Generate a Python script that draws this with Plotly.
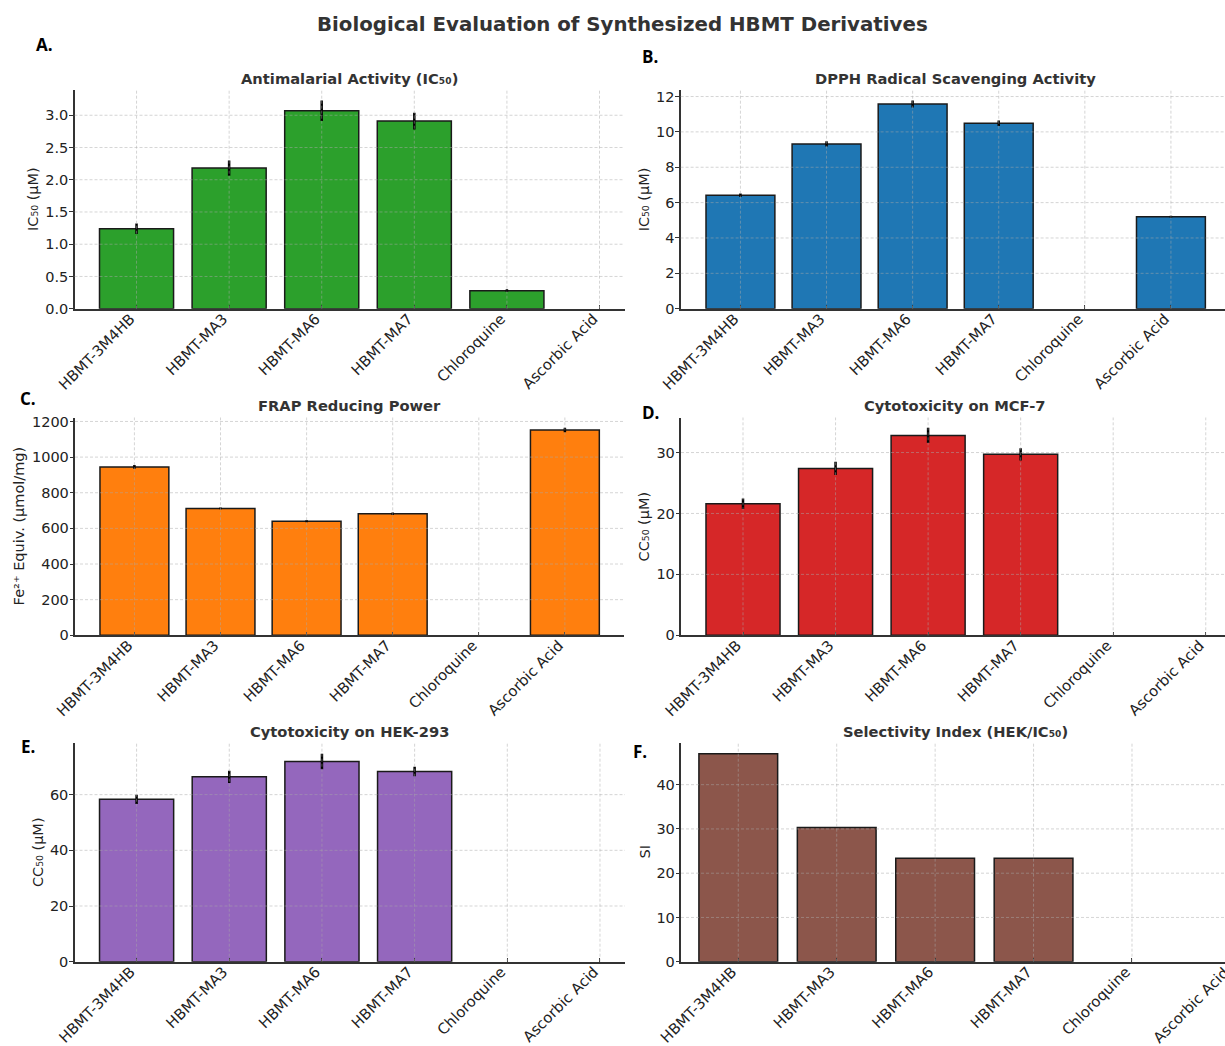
import plotly.graph_objects as go

# ---- data -------------------------------------------------------------
categories = ["HBMT-3M4HB", "HBMT-MA3", "HBMT-MA6", "HBMT-MA7", "Chloroquine", "Ascorbic Acid"]

antimalarial_ic50 = [1.24, 2.18, 3.07, 2.91, 0.28, None]
antimalarial_err = [0.08, 0.12, 0.16, 0.13, 0.02, None]

dpph_ic50 = [6.42, 9.32, 11.58, 10.49, None, 5.20]
dpph_err = [0.10, 0.15, 0.20, 0.16, None, 0.05]

frap_fe = [945, 712, 640, 682, None, 1152]
frap_err = [10, 5, 6, 7, None, 12]

mcf7_cc50 = [21.6, 27.4, 32.8, 29.7, None, None]
mcf7_err = [0.85, 1.1, 1.25, 1.0, None, None]

hek_cc50 = [58.3, 66.4, 71.9, 68.3, None, None]
hek_err = [1.7, 2.2, 2.8, 1.7, None, None]

selectivity_index = [47.0, 30.3, 23.4, 23.4, None, None]
selectivity_err = [None] * 6

# ---- figure geometry --------------------------------------------------
W, H = 1225, 1046
FONT = "DejaVu Sans"
TXT = "#222222"

panels = [
    dict(label="A.", title="Antimalarial Activity (IC₅₀)", ytitle="IC₅₀ (µM)",
         y=antimalarial_ic50, err=antimalarial_err, color="#2ca02c", dtick=0.5, fmt=".1f",
         box=(74.5, 624.5, 90, 308.7), xr=(-0.67, 5.27), tc=349.5,
         lab=(44.5, 44.5), ttl_y=78, ytl_x=33.6),
    dict(label="B.", title="DPPH Radical Scavenging Activity", ytitle="IC₅₀ (µM)",
         y=dpph_ic50, err=dpph_err, color="#1f77b4", dtick=2, fmt="d",
         box=(680.6, 1225, 90, 308.7), xr=(-0.695, 5.628), tc=955.3,
         lab=(650, 56.7), ttl_y=78, ytl_x=644),
    dict(label="C.", title="FRAP Reducing Power", ytitle="Fe²⁺ Equiv. (µmol/mg)",
         y=frap_fe, err=frap_err, color="#ff7f0e", dtick=200, fmt="d",
         box=(75, 624.3, 417.5, 635.3), xr=(-0.69, 5.69), tc=349.5,
         lab=(27.7, 399), ttl_y=405, ytl_x=19),
    dict(label="D.", title="Cytotoxicity on MCF-7", ytitle="CC₅₀ (µM)",
         y=mcf7_cc50, err=mcf7_err, color="#d62728", dtick=10, fmt="d",
         box=(681, 1225, 417.5, 635.3), xr=(-0.67, 5.208), tc=955.3,
         lab=(650, 412.5), ttl_y=405, ytl_x=644),
    dict(label="E.", title="Cytotoxicity on HEK-293", ytitle="CC₅₀ (µM)",
         y=hek_cc50, err=hek_err, color="#9467bd", dtick=20, fmt="d",
         box=(74.5, 625, 743.3, 961.7), xr=(-0.67, 5.27), tc=349.5,
         lab=(27.7, 746), ttl_y=731, ytl_x=37.5),
    dict(label="F.", title="Selectivity Index (HEK/IC₅₀)", ytitle="SI",
         y=selectivity_index, err=selectivity_err, color="#8c564b", dtick=10, fmt="d",
         box=(681, 1225, 743.3, 961.7), xr=(-0.582, 4.945), tc=955.3,
         lab=(639.7, 751), ttl_y=731, ytl_x=644),
]


def px(x):
    return x / W


def py(y):
    return 1 - y / H


fig = go.Figure()
annotations = []
shapes = []
layout_axes = {}
GRID = dict(color="rgba(170,170,170,0.55)", width=0.9, dash="3px,2px")

for i, p in enumerate(panels, start=1):
    sfx = "" if i == 1 else str(i)
    xa, ya = "x" + sfx, "y" + sfx
    left, right, top, bottom = p["box"]

    tops = [v + (e or 0) for v, e in zip(p["y"], p["err"]) if v is not None]
    ymax = max(tops) * 1.05

    has_err = any(e is not None for e in p["err"])
    fig.add_trace(go.Bar(
        x=categories, y=p["y"], width=0.8,
        marker=dict(color=p["color"], line=dict(color="#1a1a1a", width=1.5)),
        error_y=dict(type="data", array=p["err"], visible=has_err,
                     color="black", thickness=2.5, width=0),
        xaxis=xa, yaxis=ya, showlegend=False, hoverinfo="x+y",
    ))

    visible_cats = [c for k, c in enumerate(categories) if p["xr"][0] <= k <= p["xr"][1]]

    layout_axes["xaxis" + sfx] = dict(
        domain=[px(left), px(right)], anchor=ya, type="category",
        categoryorder="array", categoryarray=categories, automargin=False,
        range=list(p["xr"]), showgrid=False, zeroline=False,
        showline=True, linecolor="#333333", linewidth=1.5,
        ticks="inside", ticklen=4, tickcolor="#333333", tickwidth=1,
        tickangle=-45, tickfont=dict(family=FONT, size=14.8, color=TXT),
        ticklabelshift=-6, ticklabelstandoff=-6,
        layer="above traces", fixedrange=True,
    )
    layout_axes["yaxis" + sfx] = dict(
        domain=[py(bottom), py(top)], anchor=xa, range=[0, ymax], automargin=False,
        dtick=p["dtick"], tick0=0, tickformat=p["fmt"],
        showgrid=False, zeroline=False,
        showline=True, linecolor="#333333", linewidth=1.5,
        ticks="outside", ticklen=3.5, tickcolor="#333333", tickwidth=1,
        tickfont=dict(family=FONT, size=14.5, color=TXT),
        ticklabelstandoff=-2,
        layer="above traces", fixedrange=True,
    )

    # dashed grid drawn on top of the bars
    t = p["dtick"]
    while t < ymax:
        shapes.append(dict(type="line", xref=xa + " domain", yref=ya,
                           x0=0, x1=1, y0=t, y1=t, layer="above", line=GRID))
        t += p["dtick"]
    for c in visible_cats:
        shapes.append(dict(type="line", xref=xa, yref=ya + " domain",
                           x0=c, x1=c, y0=0, y1=1, layer="above", line=GRID))

    # subplot title (centred on the full axes width)
    annotations.append(dict(
        text="<b>" + p["title"] + "</b>", xref="paper", yref="paper",
        x=px(p["tc"]), y=py(p["ttl_y"]),
        xanchor="center", yanchor="middle", showarrow=False,
        font=dict(family=FONT, size=14.7, color="#333333"),
    ))
    # y-axis title
    annotations.append(dict(
        text=p["ytitle"], xref="paper", yref="paper",
        x=px(p["ytl_x"]), y=py((top + bottom) / 2), textangle=-90,
        xanchor="center", yanchor="middle", showarrow=False,
        font=dict(family=FONT, size=14.5, color=TXT),
    ))
    # panel letter
    annotations.append(dict(
        text="<b>" + p["label"] + "</b>", xref="paper", yref="paper",
        x=px(p["lab"][0]), y=py(p["lab"][1]),
        xanchor="center", yanchor="middle", showarrow=False,
        font=dict(family="Open Sans", size=17, color="black"),
    ))

# last category label of panel F sits partly beyond the page edge
annotations.append(dict(
    text=categories[5], xref="paper", yref="paper",
    x=px(1190), y=py(1005), textangle=-45,
    xanchor="center", yanchor="middle", showarrow=False,
    font=dict(family=FONT, size=14.8, color=TXT),
))

# main title
annotations.append(dict(
    text="<b>Biological Evaluation of Synthesized HBMT Derivatives</b>",
    xref="paper", yref="paper", x=px(622), y=py(24),
    xanchor="center", yanchor="middle", showarrow=False,
    font=dict(family=FONT, size=19.8, color="#333333"),
))

fig.update_layout(
    width=W, height=H, margin=dict(l=0, r=0, t=0, b=0, pad=0, autoexpand=False),
    paper_bgcolor="white", plot_bgcolor="white",
    bargap=0.2, annotations=annotations, shapes=shapes,
    **layout_axes,
)

fig.write_html("out.html")
